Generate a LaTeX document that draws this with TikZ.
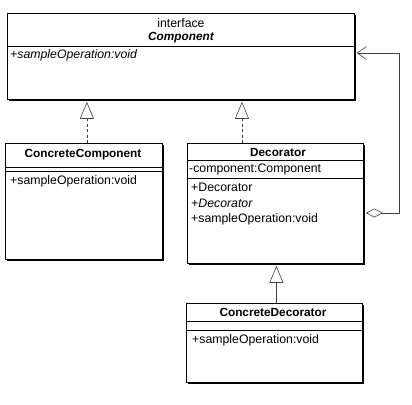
\documentclass[tikz,border=0pt]{standalone}
\usepackage{fontspec}
\setmainfont{Liberation Sans}
\usetikzlibrary{arrows.meta,shadows}
\begin{document}
\begin{tikzpicture}[x=1pt,y=-1pt,
  classbox/.style={draw, line width=0.8pt, fill=white, anchor=north west, inner sep=0pt,
    drop shadow={shadow xshift=1.6pt, shadow yshift=-1.6pt, fill=black, opacity=1}},
  divider/.style={line width=0.7pt},
  txt/.style={anchor=west, inner sep=0pt, font=\fontsize{12.3}{14}\selectfont},
  ttl/.style={inner sep=0pt, font=\fontsize{11.8}{14}\selectfont\bfseries},
  conn/.style={line width=0.6pt, draw=black!75},
  realize/.style={conn, dash pattern=on 3pt off 2.5pt, -{Triangle[open, length=17pt, width=14pt, line width=0.6pt]}},
  inherit/.style={conn, -{Triangle[open, length=17pt, width=14pt, line width=0.6pt]}},
  agg/.style={conn, {Diamond[open, length=17pt, width=9pt, line width=0.6pt]}-{Straight Barb[length=9pt, width=13pt, line width=0.6pt]}}
]
\useasboundingbox (0,0) rectangle (412,404);

% Component
\node[classbox, minimum width=347pt, minimum height=86pt] (comp) at (7,13) {};
\draw[divider] (comp.west |- 0,46) -- (comp.east |- 0,46);
\node[inner sep=0pt, font=\fontsize{12.3}{14}\selectfont] (compst) at (181,23) {interface};
\node[ttl, font=\fontsize{11.8}{14}\selectfont\bfseries\itshape] (compt) at (181,38) {Component};
\node[txt, font=\fontsize{12.3}{14}\selectfont\itshape] (compop) at (10,55) {+sampleOperation:void};

% ConcreteComponent
\node[classbox, minimum width=157pt, minimum height=116pt] (cc) at (5,143) {};
\draw[divider] (cc.west |- 0,167) -- (cc.east |- 0,167);
\draw[divider] (cc.west |- 0,171) -- (cc.east |- 0,171);
\node[ttl] (cct) at (83,155) {ConcreteComponent};
\node[txt] (ccop) at (10,181) {+sampleOperation:void};

% Decorator
\node[classbox, minimum width=176pt, minimum height=120pt] (dec) at (187,143) {};
\draw[divider] (dec.west |- 0,160) -- (dec.east |- 0,160);
\draw[divider] (dec.west |- 0,178) -- (dec.east |- 0,178);
\node[ttl] (dect) at (278,152) {Decorator};
\node[txt] (deca) at (189,169) {-component:Component};
\node[txt] (decop1) at (191,187) {+Decorator};
\node[txt, font=\fontsize{12.3}{14}\selectfont\itshape] (decop2) at (191,203) {+Decorator};
\node[txt] (decop3) at (191,219) {+sampleOperation:void};

% ConcreteDecorator
\node[classbox, minimum width=176pt, minimum height=79pt] (cd) at (186,303) {};
\draw[divider] (cd.west |- 0,321) -- (cd.east |- 0,321);
\draw[divider] (cd.west |- 0,330) -- (cd.east |- 0,330);
\node[ttl] (cdt) at (273,312) {ConcreteDecorator};
\node[txt] (cdop) at (192,340) {+sampleOperation:void};

% connectors
\draw[realize] ([xshift=3pt]cc.north) -- ([xshift=3pt,yshift=-2pt]cc.north |- comp.south);
\draw[realize] ([xshift=55pt]dec.north west) -- ([xshift=55pt,yshift=-2pt]dec.north west |- comp.south);
\draw[inherit] ([xshift=2pt]cd.north) -- ([xshift=2pt,yshift=-2pt]cd.north |- dec.south);
\draw[agg] ([xshift=2pt,yshift=-70pt]dec.north east) -- ++(33,0) |- ([xshift=2pt,yshift=-40pt]comp.north east);
\end{tikzpicture}
\end{document}
